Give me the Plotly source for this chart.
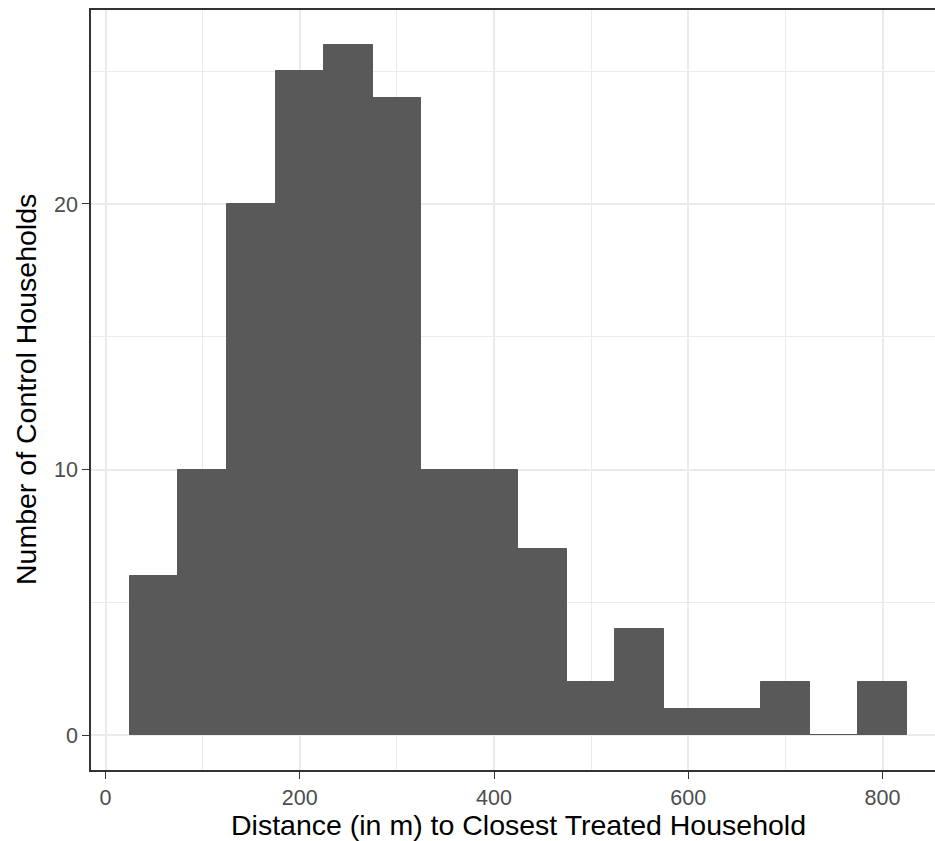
import plotly.graph_objects as go

# Histogram bins (centers, width 50 m) and counts of control households
bin_centers = [50, 100, 150, 200, 250, 300, 350, 400, 450, 500, 550, 600, 650, 700, 750, 800]
counts = [6, 10, 20, 25, 26, 24, 10, 10, 7, 2, 4, 1, 1, 2, 0, 2]
bin_width = 50

x_ticks = [0, 200, 400, 600, 800]
x_minor = [100, 300, 500, 700]
y_ticks = [0, 10, 20]
y_minor = [5, 15, 25]

FONT = "Liberation Sans, Arial, Helvetica, sans-serif"
GRID = "#EBEBEB"
DARK = "#333333"
TICKTXT = "#4D4D4D"

fig = go.Figure()
fig.add_trace(go.Bar(
    x=bin_centers, y=counts, width=[bin_width] * len(bin_centers),
    marker=dict(color="#595959", line=dict(color="#595959", width=1)),
    hoverinfo="x+y",
))

fig.update_layout(
    width=935, height=841,
    margin=dict(l=91, r=0, t=10, b=71),
    paper_bgcolor="white", plot_bgcolor="white",
    showlegend=False, bargap=0,
    font=dict(family=FONT, color=TICKTXT, size=21),
)
fig.update_xaxes(
    range=[-15, 854], tickvals=x_ticks, ticktext=[str(v) for v in x_ticks],
    showgrid=True, gridcolor=GRID, gridwidth=1.5,
    minor=dict(tickvals=x_minor, showgrid=True, gridcolor=GRID, gridwidth=0.8, ticklen=0),
    showline=True, linecolor=DARK, linewidth=1.6, mirror=True,
    ticks="outside", ticklen=7, tickwidth=1.4, tickcolor=DARK,
    tickfont=dict(size=21.5, color=TICKTXT),
    zeroline=False,
)
fig.update_yaxes(
    range=[-1.3, 27.3], tickvals=y_ticks, ticktext=[str(v) for v in y_ticks],
    showgrid=True, gridcolor=GRID, gridwidth=1.5,
    minor=dict(tickvals=y_minor, showgrid=True, gridcolor=GRID, gridwidth=0.8, ticklen=0),
    showline=True, linecolor=DARK, linewidth=1.6, mirror=False,
    ticks="outside", ticklen=7, tickwidth=1.4, tickcolor=DARK,
    tickfont=dict(size=21.5, color=TICKTXT),
    zeroline=False,
)
fig.add_annotation(
    text="Distance (in m) to Closest Treated Household",
    xref="paper", yref="paper", x=0.506, y=0, yshift=-55, xanchor="center", yanchor="middle",
    borderpad=0,
    showarrow=False, font=dict(family=FONT, size=28.5, color="black"),
)
fig.add_annotation(
    text="Number of Control Households",
    xref="paper", yref="paper", x=0, xshift=-65, y=0.5, textangle=-90,
    xanchor="center", yanchor="middle",
    showarrow=False, font=dict(family=FONT, size=28.5, color="black"),
)

fig.write_html(
    "out.html",
    config={"displayModeBar": False},
    post_script="document.body.style.margin='0';document.body.style.overflow='hidden';",
)
